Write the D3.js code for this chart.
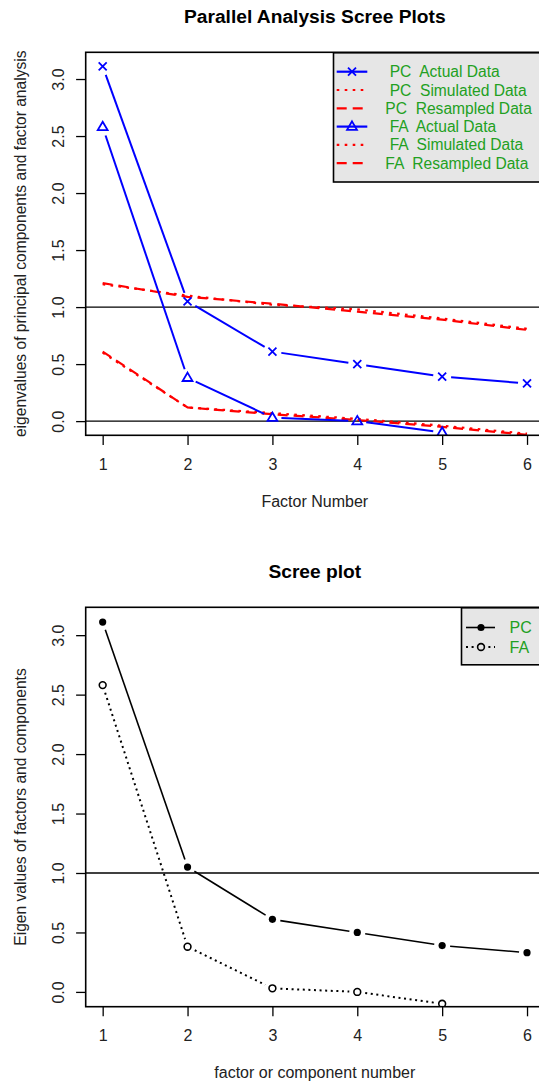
<!DOCTYPE html>
<html>
<head>
<meta charset="utf-8">
<title>Parallel Analysis Scree Plots</title>
<script src="https://cdn.jsdelivr.net/npm/d3@7"></script>
<style>
  body { margin: 0; background: #fff; }
  svg { font-family: "Liberation Sans", Arial, sans-serif; display: block; }
</style>
</head>
<body>
<svg id="vis" width="539" height="1086"></svg>
<script>
// data
var factors      = [1, 2, 3, 4, 5, 6];
var pcActual     = [3.11, 1.05, 0.61, 0.50, 0.39, 0.33];
var pcSimulated  = [1.20, 1.10, 1.02, 0.98, 0.90, 0.81];
var pcResampled  = [1.21, 1.09, 1.03, 0.96, 0.89, 0.80];
var faActual     = [2.58, 0.38, 0.03, 0.00, -0.10, -0.40];
var faSimulated  = [0.60, 0.12, 0.07, 0.02, -0.04, -0.11];
var faResampled  = [0.61, 0.12, 0.06, 0.01, -0.05, -0.12];
var yTicks       = [0, 0.5, 1, 1.5, 2, 2.5, 3];
var topLegend    = ["  PC  Actual Data", "  PC  Simulated Data", " PC  Resampled Data",
                    "  FA  Actual Data", "  FA  Simulated Data", " FA  Resampled Data"];
var bottomLegend = ["PC", "FA"];

var svg = d3.select("#vis");
var BLUE = "#0000ff", RED = "#ff0000", GREEN = "#22a022";

// R style ylim c(0,max) with 4% expansion
var ymax = d3.max(pcActual);
var ylo = -0.04 * ymax, yhi = ymax * 1.04;

function panel(id, top, bottom, title, xlab, ylab) {
  var x = d3.scaleLinear().domain([0.8, 6.2]).range([85.7, 544]);
  var y = d3.scaleLinear().domain([ylo, yhi]).range([bottom, top]);
  var g = svg.append("g");

  g.append("clipPath").attr("id", id).append("rect")
    .attr("x", x.range()[0]).attr("y", top)
    .attr("width", x.range()[1] - x.range()[0]).attr("height", bottom - top);

  // y axis, labels parallel to axis
  var ya = g.append("g").attr("transform", "translate(" + x.range()[0] + ",0)")
    .call(d3.axisLeft(y).tickValues(yTicks).tickFormat(d3.format(".1f")).tickSize(9.6).tickPadding(0));
  ya.select(".domain").remove();
  ya.selectAll("line").attr("stroke", "#000").attr("stroke-width", 1.3);
  ya.selectAll("text").attr("x", null).attr("dy", null).attr("y", null)
    .attr("transform", "translate(-21.5,0) rotate(-90)")
    .attr("text-anchor", "middle")
    .attr("font-size", 16).attr("fill", "#222").attr("font-family", null);

  // x axis
  var xa = g.append("g").attr("transform", "translate(0," + bottom + ")")
    .call(d3.axisBottom(x).tickValues(factors).tickFormat(d3.format("d")).tickSize(9.6).tickPadding(0));
  xa.select(".domain").remove();
  xa.selectAll("line").attr("stroke", "#000").attr("stroke-width", 1.3);
  xa.selectAll("text").attr("y", 34.5).attr("dy", null)
    .attr("font-size", 16).attr("fill", "#222").attr("font-family", null);

  g.append("text").attr("x", 314.8).attr("y", top - 29.3).attr("text-anchor", "middle")
    .attr("font-size", 19.2).attr("font-weight", "bold").text(title);
  g.append("text").attr("x", 314.8).attr("y", bottom + 71.5).attr("text-anchor", "middle")
    .attr("font-size", 16).attr("fill", "#222").text(xlab);
  g.append("text").attr("transform", "translate(26," + (top + bottom) / 2 + ") rotate(-90)")
    .attr("text-anchor", "middle").attr("font-size", 15.6).attr("fill", "#222").text(ylab);

  var plot = g.append("g").attr("clip-path", "url(#" + id + ")");
  return { g: g, plot: plot, x: x, y: y, top: top, bottom: bottom };
}

function hline(p, v) {
  p.plot.append("line").attr("x1", p.x.range()[0]).attr("x2", p.x.range()[1])
    .attr("y1", p.y(v)).attr("y2", p.y(v)).attr("stroke", "#000").attr("stroke-width", 1.4);
}

function plainLine(p, vals, color, dash, w) {
  var line = d3.line().x(function (d, i) { return p.x(factors[i]); }).y(function (d) { return p.y(d); });
  p.plot.append("path").attr("d", line(vals)).attr("fill", "none")
    .attr("stroke", color).attr("stroke-width", w).attr("stroke-dasharray", dash);
}

// type = "b": segments with a gap round each point
function gapLine(p, vals, color, dash, w, gap) {
  for (var i = 0; i < vals.length - 1; i++) {
    var x1 = p.x(factors[i]), y1 = p.y(vals[i]), x2 = p.x(factors[i + 1]), y2 = p.y(vals[i + 1]);
    var len = Math.hypot(x2 - x1, y2 - y1);
    if (len <= 2 * gap) continue;
    var ux = (x2 - x1) / len, uy = (y2 - y1) / len;
    p.plot.append("line")
      .attr("x1", x1 + ux * gap).attr("y1", y1 + uy * gap)
      .attr("x2", x2 - ux * gap).attr("y2", y2 - uy * gap)
      .attr("stroke", color).attr("stroke-width", w).attr("stroke-dasharray", dash);
  }
}

function marker(sel, kind, cx, cy, color, bg) {
  if (kind == "x") {
    var s = 4;
    sel.append("path").attr("d", "M" + (cx - s) + "," + (cy - s) + "L" + (cx + s) + "," + (cy + s) +
      "M" + (cx - s) + "," + (cy + s) + "L" + (cx + s) + "," + (cy - s))
      .attr("stroke", color).attr("stroke-width", 1.8).attr("fill", "none");
  } else if (kind == "tri") {
    var r = 5.2;
    sel.append("path").attr("d", "M" + cx + "," + (cy - r) + "L" + (cx + r * 0.95) + "," + (cy + r * 0.62) +
      "L" + (cx - r * 0.95) + "," + (cy + r * 0.62) + "Z")
      .attr("stroke", color).attr("stroke-width", 1.8).attr("fill", bg || "none");
  } else if (kind == "dot") {
    sel.append("circle").attr("cx", cx).attr("cy", cy).attr("r", 3.6).attr("fill", color);
  } else {
    sel.append("circle").attr("cx", cx).attr("cy", cy).attr("r", 3.4)
      .attr("fill", bg || "none").attr("stroke", color).attr("stroke-width", 1.6);
  }
}

function markers(p, vals, kind, color) {
  vals.forEach(function (v, i) { marker(p.plot, kind, p.x(factors[i]), p.y(v), color); });
}

// ---- top panel ----
var p1 = panel("clipTop", 52.3, 435.3, "Parallel Analysis Scree Plots", "Factor Number",
  "eigenvalues of principal components and factor analysis");
hline(p1, 1);
hline(p1, 0);
plainLine(p1, pcSimulated, RED, "2.6,5.4", 2.2);
plainLine(p1, pcResampled, RED, "10,6", 2.2);
plainLine(p1, faSimulated, RED, "2.6,5.4", 2.2);
plainLine(p1, faResampled, RED, "10,6", 2.2);
gapLine(p1, pcActual, BLUE, null, 2, 9);
gapLine(p1, faActual, BLUE, null, 2, 9);
markers(p1, pcActual, "x", BLUE);
markers(p1, faActual, "tri", BLUE);

p1.g.append("rect").attr("x", p1.x.range()[0]).attr("y", p1.top)
  .attr("width", p1.x.range()[1] - p1.x.range()[0]).attr("height", p1.bottom - p1.top)
  .attr("fill", "none").attr("stroke", "#000").attr("stroke-width", 1.6);

var leg1 = p1.g.append("g");
leg1.append("rect").attr("x", 333.5).attr("y", 52.8).attr("width", 212).attr("height", 129.2)
  .attr("fill", "#e6e6e6").attr("stroke", "#000").attr("stroke-width", 1.6);
var legStyle = [
  { c: BLUE, dash: null, m: "x" }, { c: RED, dash: "2.6,5.4", m: null }, { c: RED, dash: "10,6", m: null },
  { c: BLUE, dash: null, m: "tri" }, { c: RED, dash: "2.6,5.4", m: null }, { c: RED, dash: "10,6", m: null }];
topLegend.forEach(function (lab, i) {
  var yy = 71.7 + i * 18.3, st = legStyle[i];
  leg1.append("line").attr("x1", 336.7).attr("x2", 367.3).attr("y1", yy).attr("y2", yy)
    .attr("stroke", st.c).attr("stroke-width", 2.2).attr("stroke-dasharray", st.dash);
  if (st.m) marker(leg1, st.m, 352, yy, st.c);
  leg1.append("text").attr("x", 381).attr("y", yy + 5.5).attr("font-size", 15.6)
    .attr("fill", GREEN).style("white-space", "pre").text(lab);
});

// ---- bottom panel ----
var p2 = panel("clipBottom", 607.3, 1006.7, "Scree plot", "factor or component number",
  "Eigen values of factors and components");
hline(p2, 1);
gapLine(p2, pcActual, "#000", null, 1.6, 8);
gapLine(p2, faActual, "#000", "2,3.6", 2, 8);
markers(p2, pcActual, "dot", "#000");
markers(p2, faActual, "circle", "#000");

p2.g.append("rect").attr("x", p2.x.range()[0]).attr("y", p2.top)
  .attr("width", p2.x.range()[1] - p2.x.range()[0]).attr("height", p2.bottom - p2.top)
  .attr("fill", "none").attr("stroke", "#000").attr("stroke-width", 1.6);

var leg2 = p2.g.append("g");
leg2.append("rect").attr("x", 461.5).attr("y", 607.8).attr("width", 90).attr("height", 57)
  .attr("fill", "#e6e6e6").attr("stroke", "#000").attr("stroke-width", 1.6);
bottomLegend.forEach(function (lab, i) {
  var yy = 627.5 + i * 19.5;
  leg2.append("line").attr("x1", 466).attr("x2", 495).attr("y1", yy).attr("y2", yy)
    .attr("stroke", "#000").attr("stroke-width", i ? 2 : 1.6).attr("stroke-dasharray", i ? "2,3.6" : null);
  marker(leg2, i ? "circle" : "dot", 481, yy, "#000", "#e6e6e6");
  leg2.append("text").attr("x", 509.5).attr("y", yy + 5.5).attr("font-size", 16)
    .attr("fill", GREEN).text(lab);
});
</script>
</body>
</html>
